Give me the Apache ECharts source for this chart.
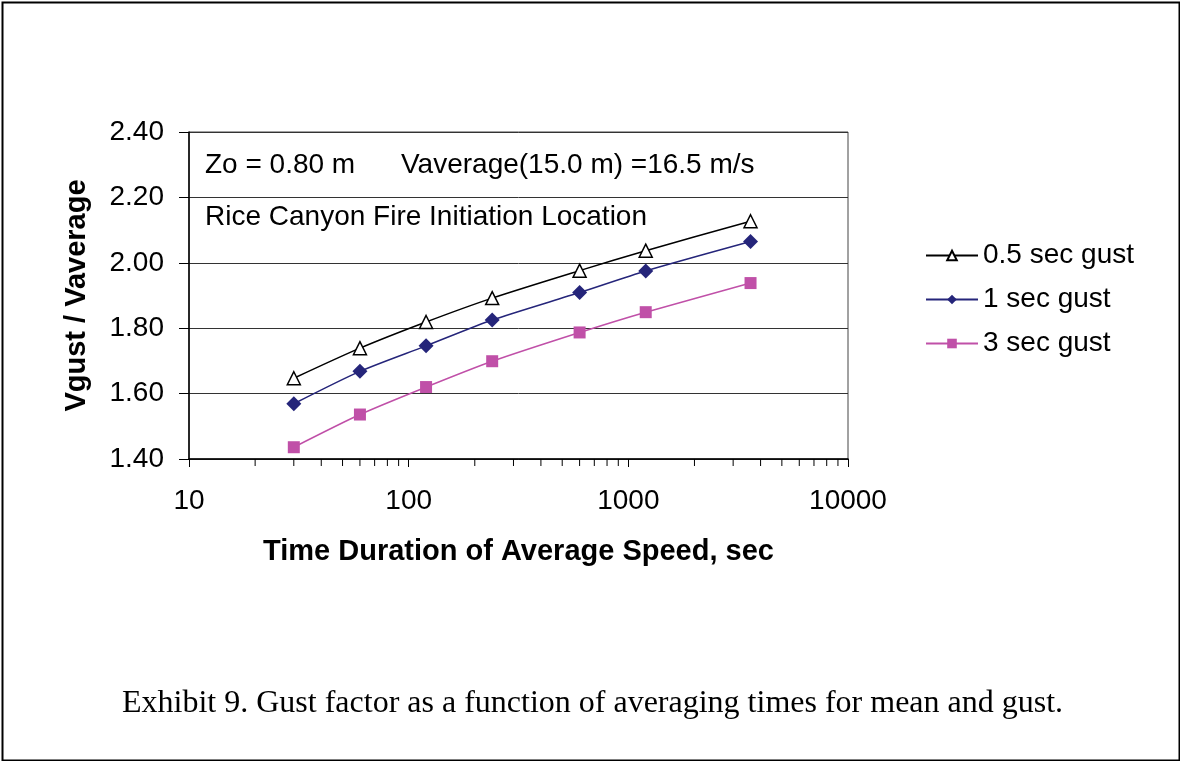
<!DOCTYPE html>
<html>
<head>
<meta charset="utf-8">
<script src="https://cdn.jsdelivr.net/npm/echarts@6/dist/echarts.min.js"></script>
<style>
html,body{margin:0;padding:0;background:#fff;}
#c{width:1180px;height:761px;}
</style>
</head>
<body>
<div id="c"></div>
<script>
const durations = [30, 60, 120, 240, 600, 1200, 3600];
const gust05 = [1.647, 1.739, 1.819, 1.892, 1.976, 2.037, 2.127];
const gust1 = [1.569, 1.668, 1.746, 1.825, 1.909, 1.975, 2.065];
const gust3 = [1.436, 1.536, 1.620, 1.699, 1.787, 1.849, 1.938];
const seriesNames = ['0.5 sec gust', '1 sec gust', '3 sec gust'];
const minorTickValues = [20,30,40,50,60,70,80,90,200,300,400,500,600,700,800,900,2000,3000,4000,5000,6000,7000,8000,9000];
const yMin = 1.4, yMax = 2.4, yStep = 0.2;

const chart = echarts.init(document.getElementById('c'), null, {renderer: 'canvas'});
const pair = (arr) => durations.map((d, i) => [d, arr[i]]);
const font = 'Liberation Sans, Arial, sans-serif';

chart.setOption({
  backgroundColor: '#fff',
  animation: false,
  textStyle: {fontFamily: font, color: '#000'},
  grid: {left: 189, right: 332, top: 132, bottom: 302, show: true, borderColor: '#444', borderWidth: 1, backgroundColor: 'transparent'},
  legend: {
    data: seriesNames,
    orient: 'vertical', left: 920, top: 236,
    itemWidth: 52, itemHeight: 12, itemGap: 15,
    textStyle: {fontSize: 28, lineHeight: 29, color: '#000', fontFamily: font, padding: [0, 0, 0, 0]}
  },
  xAxis: {
    type: 'log', logBase: 10, min: 10, max: 10000,
    axisLine: {show: true, lineStyle: {color: '#000', width: 1.5}},
    axisTick: {show: true, inside: false, length: 8, lineStyle: {color: '#000'}},
    splitLine: {show: false},
    axisLabel: {fontSize: 28, color: '#000', margin: 28, fontFamily: font, formatter: v => String(Math.round(v))},
    name: 'Time Duration of Average Speed, sec',
    nameLocation: 'middle', nameGap: 78,
    nameTextStyle: {fontSize: 29, fontWeight: 'bold', color: '#000', fontFamily: font}
  },
  yAxis: {
    type: 'value', min: yMin, max: yMax, interval: yStep,
    axisLine: {show: true, lineStyle: {color: '#000', width: 1.5}},
    axisTick: {show: true, inside: false, length: 10, lineStyle: {color: '#000'}},
    splitLine: {show: true, lineStyle: {color: '#333', width: 1}},
    axisLabel: {fontSize: 28, color: '#000', margin: 25, fontFamily: font, formatter: v => v.toFixed(2)},
    name: 'Vgust / Vaverage',
    nameLocation: 'middle', nameGap: 98, nameRotate: 90,
    nameTextStyle: {fontSize: 29, fontWeight: 'bold', color: '#000', fontFamily: font}
  },
  graphic: [
    {type: 'rect', left: 0, top: 0, shape: {x: 1, y: 1, width: 1177, height: 758}, style: {fill: 'none', stroke: '#000', lineWidth: 2}, silent: true},
    {type: 'text', left: 205, top: 151, style: {text: 'Zo = 0.80 m', font: '28px ' + font, fill: '#000'}},
    {type: 'text', left: 401, top: 151, style: {text: 'Vaverage(15.0 m) =16.5 m/s', font: '28px ' + font, fill: '#000'}},
    {type: 'text', left: 205, top: 203, style: {text: 'Rice Canyon Fire Initiation Location', font: '28px ' + font, fill: '#000'}},
    {type: 'text', left: 122, top: 688, style: {text: 'Exhibit 9. Gust factor as a function of averaging times for mean and gust.', font: '32px Liberation Serif, Times New Roman, serif', fill: '#000'}}
  ],
  series: [
    {
      name: seriesNames[0], type: 'line', data: pair(gust05), smooth: 0.25,
      symbol: 'triangle', symbolSize: 13,
      itemStyle: {color: '#fff', borderColor: '#000', borderWidth: 1.5},
      lineStyle: {color: '#000', width: 1.5}
    },
    {
      name: seriesNames[1], type: 'line', data: pair(gust1), smooth: 0.25,
      symbol: 'diamond', symbolSize: 15,
      itemStyle: {color: '#25257A'},
      lineStyle: {color: '#25257A', width: 1.5}
    },
    {
      name: seriesNames[2], type: 'line', data: pair(gust3), smooth: 0.25,
      symbol: 'rect', symbolSize: 12,
      itemStyle: {color: '#C050A8'},
      lineStyle: {color: '#C050A8', width: 1.5}
    },
    {
      name: 'minorTicks', type: 'custom', silent: true,
      data: minorTickValues.map(v => [v, yMin]),
      renderItem: (params, api) => {
        const p = api.coord([api.value(0), api.value(1)]);
        return {type: 'line', shape: {x1: p[0], y1: p[1], x2: p[0], y2: p[1] + 7}, style: {stroke: '#000', lineWidth: 1}};
      }
    }
  ]
});
</script>
</body>
</html>
